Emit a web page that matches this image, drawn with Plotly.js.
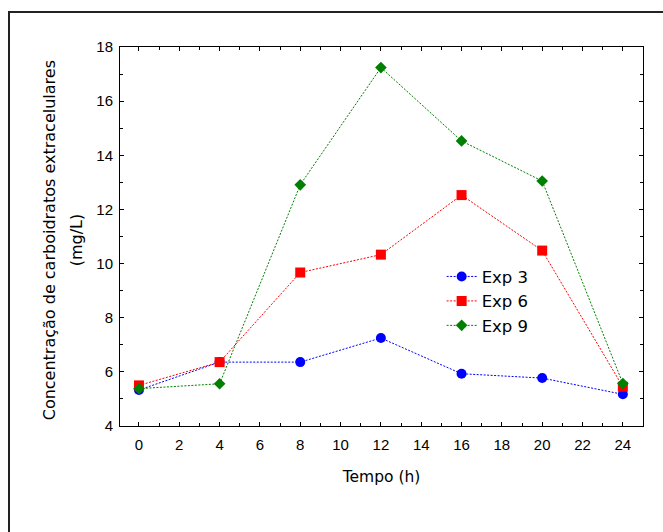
<!DOCTYPE html>
<html>
<head>
<meta charset="utf-8">
<script src="https://cdn.plot.ly/plotly-3.0.1.min.js"></script>
<style>html,body{margin:0;padding:0;background:#fff}#chart{width:663px;height:532px}</style>
</head>
<body>
<div id="chart"></div>
<script>
const tempo = [0, 4, 8, 12, 16, 20, 24];
const exp3 = [5.33, 6.36, 6.36, 7.25, 5.93, 5.77, 5.17];
const exp6 = [5.50, 6.36, 9.67, 10.33, 12.53, 10.48, 5.45];
const exp9 = [5.38, 5.56, 12.91, 17.24, 14.53, 13.05, 5.57];
const seriesNames = ['Exp 3', 'Exp 6', 'Exp 9'];
const xTickVals = [0, 2, 4, 6, 8, 10, 12, 14, 16, 18, 20, 22, 24];
const yTickVals = [4, 6, 8, 10, 12, 14, 16, 18];
const yTitleLines = ['Concentração de carboidratos extracelulares', '(mg/L)'];

const lineDash = '2px,1.5px';
const traces = [
  {x: tempo, y: exp3, name: seriesNames[0], type: 'scatter', mode: 'lines+markers',
   line: {color: '#0000ff', width: 1, dash: lineDash},
   marker: {symbol: 'circle', size: 10, color: '#0000ff'}},
  {x: tempo, y: exp6, name: seriesNames[1], type: 'scatter', mode: 'lines+markers',
   line: {color: '#ff0000', width: 1, dash: lineDash},
   marker: {symbol: 'square', size: 10, color: '#ff0000'}},
  {x: tempo, y: exp9, name: seriesNames[2], type: 'scatter', mode: 'lines+markers',
   line: {color: '#008000', width: 1, dash: lineDash},
   marker: {symbol: 'diamond', size: 9, color: '#008000'}}
];

const tickFam = 'Liberation Sans, Arial, sans-serif';
const txtFam = 'DejaVu Sans, sans-serif';
const L = 120, W = 523, B = 426, H = 379;
const layout = {
  width: 663, height: 532,
  margin: {l: L, r: 20, t: 47, b: 106},
  paper_bgcolor: '#fff', plot_bgcolor: '#fff',
  font: {family: tickFam, size: 15, color: '#000'},
  showlegend: true,
  legend: {x: 0.615, y: 0.44, xanchor: 'left', yanchor: 'top', bgcolor: 'rgba(0,0,0,0)',
           font: {family: txtFam, size: 16.5, color: '#000'}, tracegroupgap: 0},
  xaxis: {
    range: [-0.94, 25], tickvals: xTickVals, ticks: 'inside', ticklen: 4, tickcolor: '#000',
    showline: true, linecolor: '#000', linewidth: 1, mirror: 'ticks', showgrid: false, zeroline: false,
    tickfont: {family: tickFam, size: 15, color: '#000'}, ticklabelstandoff: 5,
    minor: {dtick: 1, tick0: 0, ticks: 'inside', ticklen: 3, tickcolor: '#000', showgrid: false},
    title: {text: 'Tempo (h)', font: {family: txtFam, size: 15.5, color: '#000'}, standoff: 19}
  },
  yaxis: {
    range: [4, 18], tickvals: yTickVals, ticks: 'inside', ticklen: 4, tickcolor: '#000',
    showline: true, linecolor: '#000', linewidth: 1, mirror: 'ticks', showgrid: false, zeroline: false,
    tickfont: {family: tickFam, size: 15, color: '#000'}, ticklabelstandoff: 3,
    minor: {dtick: 1, tick0: 0, ticks: 'inside', ticklen: 3, tickcolor: '#000', showgrid: false}
  },
  annotations: [
    {text: yTitleLines[0], xref: 'paper', yref: 'paper', x: (49 - L) / W, y: 0.49,
     xanchor: 'center', yanchor: 'middle', textangle: -90, showarrow: false,
     font: {family: txtFam, size: 16, color: '#000'}},
    {text: yTitleLines[1], xref: 'paper', yref: 'paper', x: (76 - L) / W, y: 0.49,
     xanchor: 'center', yanchor: 'middle', textangle: -90, showarrow: false,
     font: {family: txtFam, size: 16, color: '#000'}}
  ],
  shapes: [{
    type: 'rect', xref: 'paper', yref: 'paper',
    x0: (9 - L) / W, x1: (680 - L) / W,
    y0: (B - 560) / H, y1: (B - 12) / H,
    line: {color: '#222', width: 2}, layer: 'below'
  }]
};
Plotly.newPlot('chart', traces, layout, {displayModeBar: false, staticPlot: true});
</script>
</body>
</html>
